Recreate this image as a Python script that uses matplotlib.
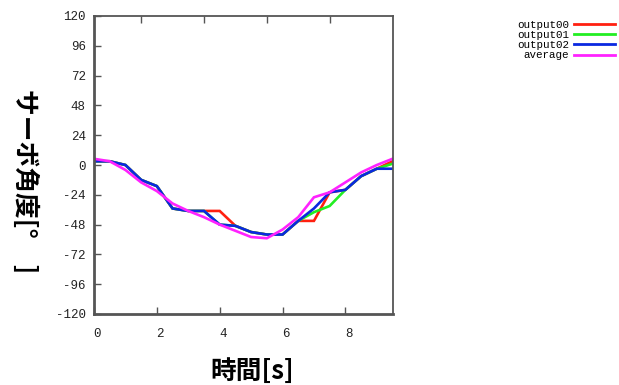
import matplotlib
matplotlib.use("Agg")
import matplotlib.pyplot as plt
import matplotlib.transforms as mtransforms

plt.rcParams["axes.unicode_minus"] = False

# Servo angle log, sampled every 0.5 s
time_s = [0, 0.5, 1, 1.5, 2, 2.5, 3, 3.5, 4, 4.5,
          5, 5.5, 6, 6.5, 7, 7.5, 8, 8.5, 9, 9.5]
output00 = [3, 3, 0, -12, -17, -35, -37, -37, -37, -49,
            -54, -56, -56, -45, -45, -22, -20, -9, -3, 3]
output01 = [3, 3, 0, -12, -17, -35, -37, -37, -48, -49,
            -54, -56, -56, -45, -38, -33, -20, -9, -3, 1]
output02 = [3, 3, 0, -12, -17, -35, -37, -37, -48, -49,
            -54, -56, -56, -45, -35, -22, -20, -9, -3, -3]
average = [5, 3, -4, -14, -21, -31, -37, -42, -48, -53,
           -58, -59, -52, -42, -26, -22, -14, -6, 0, 5]

series_names = ["output00", "output01", "output02", "average"]
series_colors = ["#ff2010", "#22ee22", "#0a28e0", "#ff22ff"]

y_ticks = list(range(-120, 121, 24))
x_ticks = [0, 2, 4, 6, 8]
top_ticks = [1.5, 3.5, 5.5, 7.5]

fig = plt.figure(figsize=(6.19, 3.85), dpi=100)
ax = fig.add_axes([94 / 619, 1 - 314 / 385, 298.5 / 619, 298 / 385])

for vals, name, col in zip([output00, output01, output02, average],
                           series_names, series_colors):
    ax.plot(time_s, vals, color=col, lw=1.9, label=name,
            solid_joinstyle="miter")

ax.set_xlim(0, 9.5)
ax.set_ylim(-120, 120)
ax.set_yticks(y_ticks)
ax.set_xticks(x_ticks)

mono = "Liberation Mono"
ax.tick_params(axis="both", direction="in", length=5, width=1.0,
               color="#555555", labelsize=9, labelcolor="#222222")
ax.tick_params(axis="y", pad=6)
ax.tick_params(axis="x", pad=10)
for lab in ax.get_xticklabels() + ax.get_yticklabels():
    lab.set_fontfamily(mono)
# nudge x tick labels slightly right
shift = mtransforms.ScaledTranslation(3.5 / 100, 0, fig.dpi_scale_trans)
for lab in ax.get_xticklabels():
    lab.set_transform(lab.get_transform() + shift)

# secondary top tick marks
top = ax.secondary_xaxis("top")
top.set_xticks(top_ticks)
top.tick_params(direction="in", length=5, width=1.0, color="#555555",
                labeltop=False)
top.spines["top"].set_visible(False)

for side, lw in [("left", 2.0), ("bottom", 2.0), ("top", 1.3), ("right", 1.3)]:
    ax.spines[side].set_color("#555555")
    ax.spines[side].set_linewidth(lw)

cjk = ["Noto Sans CJK JP", "DejaVu Sans"]
ax.set_xlabel("時間[s]", fontsize=18.5, family=cjk, fontweight="bold")
ax.xaxis.set_label_coords((252 - 94) / 298.5, -(371 - 314) / 298)
ax.xaxis.label.set_va("center")

ax.set_ylabel("サーボ角度[°　]", fontsize=18.5, family=cjk, rotation=-90,
              fontweight="bold")
ax.yaxis.label.set_va("center")
ax.yaxis.label.set_ha("center")
ax.yaxis.set_label_coords((24.5 - 94) / 298.5, (314 - 181) / 298)

leg = ax.legend(loc="upper right", bbox_to_anchor=(615 / 619, 1 - 19.5 / 385),
                bbox_transform=fig.transFigure, frameon=False,
                markerfirst=False, prop={"family": mono, "size": 7.8},
                handlelength=3.8, handletextpad=0.45, labelspacing=0.03,
                borderpad=0, borderaxespad=0)
for h in leg.legend_handles:
    h.set_linewidth(2.0)

fig.savefig("out.png", dpi=100)
